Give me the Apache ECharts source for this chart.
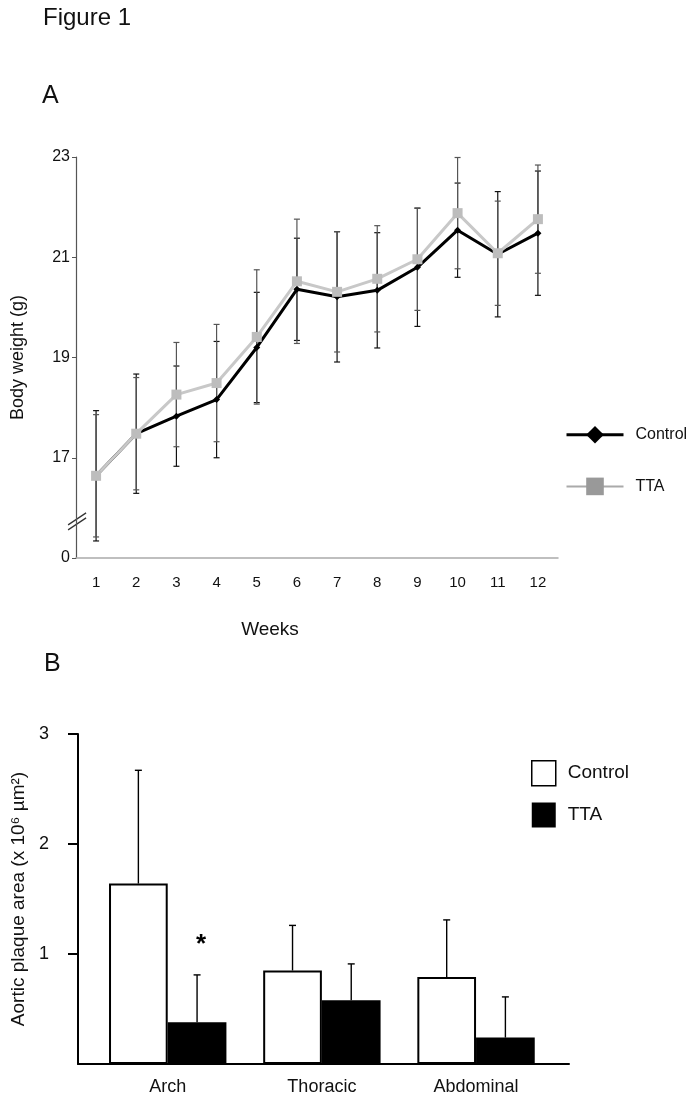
<!DOCTYPE html>
<html><head><meta charset="utf-8">
<script src="https://cdn.jsdelivr.net/npm/echarts@6/dist/echarts.min.js"></script>
<style>html,body{margin:0;padding:0;background:#fff}#c{width:696px;height:1102px}</style>
</head><body><div id="c"></div>
<script>
// ---- Panel A data ----
const weeks = ['1','2','3','4','5','6','7','8','9','10','11','12'];
const controlWeight = [16.64,17.48,17.83,18.16,19.20,20.36,20.21,20.34,20.80,21.54,21.06,21.48];
const controlSD     = [1.30,1.19,1.00,1.16,1.10,1.02,1.30,1.15,1.18,0.94,1.25,1.24];
const ttaWeight     = [16.64,17.48,18.26,18.49,19.41,20.52,20.31,20.57,20.96,21.88,21.08,21.76];
const ttaSD         = [1.22,1.12,1.04,1.17,1.34,1.24,1.20,1.06,1.02,1.11,1.04,1.08];
const weightTickValues = [15,17,19,21,23];
const weightTickLabels = ['0','17','19','21','23'];
// ---- Panel B data ----
const regions = ['Arch','Thoracic','Abdominal'];
const controlPlaque   = [1.64,0.85,0.79];
const controlPlaqueSD = [1.03,0.41,0.52];
const ttaPlaque       = [0.38,0.58,0.24];
const ttaPlaqueSD     = [0.43,0.33,0.37];
const plaqueSig       = ['*','',''];
const plaqueTicks     = [1,2,3];

const FONT = '"Liberation Sans", Arial, Helvetica, sans-serif';
const BAR_W = 58.7;

function weightErr(color){
  return function(params, api){
    const x = api.value(0);
    const lo = api.coord([x, api.value(1)]);
    const hi = api.coord([x, api.value(2)]);
    const cw = 3;
    const st = {stroke: color, lineWidth: 1.2};
    return {type:'group', children:[
      {type:'line', shape:{x1:lo[0], y1:lo[1], x2:hi[0], y2:hi[1]}, style: st},
      {type:'line', shape:{x1:lo[0]-cw, y1:lo[1], x2:lo[0]+cw, y2:lo[1]}, style: st},
      {type:'line', shape:{x1:hi[0]-cw, y1:hi[1], x2:hi[0]+cw, y2:hi[1]}, style: st}
    ]};
  };
}
function plaqueErr(side, sigArr){
  return function(params, api){
    const x = api.value(0);
    const a = api.coord([x, api.value(1)]);
    const b = api.coord([x, api.value(2)]);
    const px = a[0] + side * BAR_W / 2;
    const cw = 3.5;
    const st = {stroke:'#000', lineWidth: 1.4};
    const ch = [
      {type:'line', shape:{x1:px, y1:a[1], x2:px, y2:b[1]}, style: st},
      {type:'line', shape:{x1:px-cw, y1:b[1], x2:px+cw, y2:b[1]}, style: st}
    ];
    const s = sigArr ? sigArr[params.dataIndex] : '';
    if (s) ch.push({type:'text', style:{text:s, x:px+4, y:b[1]-30, align:'center', verticalAlign:'middle', font:'bold 26px ' + FONT, fill:'#000'}});
    return {type:'group', children: ch};
  };
}

const chart = echarts.init(document.getElementById('c'));
const option = {
  animation: false,
  backgroundColor: '#fff',
  textStyle: {fontFamily: FONT, color: '#111'},
  grid: [
    {left: 76, top: 157, width: 482, height: 401},
    {left: 78, top: 734, width: 491, height: 330}
  ],
  xAxis: [
    {type:'category', gridIndex:0, data: weeks, boundaryGap: true,
     axisLine:{lineStyle:{color:'#aaa', width:1.5}}, axisTick:{show:false},
     axisLabel:{fontSize:15, color:'#111', margin:17, fontFamily:FONT},
     name:'Weeks', nameLocation:'middle', nameGap:62,
     nameTextStyle:{fontSize:19, color:'#111', fontFamily:FONT, padding:[0,94,0,0]}},
    {type:'value', gridIndex:1, min:-0.582, max:2.603,
     axisLine:{show:true, onZero:false, lineStyle:{color:'#000', width:2}}, axisTick:{show:false},
     splitLine:{show:false},
     axisLabel:{customValues:[0,1,2], formatter: v => regions[Math.round(v)], fontSize:18, color:'#111', margin:14, fontFamily:FONT}}
  ],
  yAxis: [
    {type:'value', gridIndex:0, min:15, max:23,
     axisLine:{show:true, onZero:false, lineStyle:{color:'#555', width:1.2}},
     axisTick:{show:true, length:4, customValues: weightTickValues, lineStyle:{color:'#555'}},
     axisLabel:{customValues: weightTickValues, formatter: v => weightTickLabels[weightTickValues.indexOf(v)], fontSize:16, color:'#111', margin:6, fontFamily:FONT},
     splitLine:{show:false},
     name:'Body weight (g)', nameLocation:'middle', nameGap:49,
     nameTextStyle:{fontSize:18, color:'#111', fontFamily:FONT}},
    {type:'value', gridIndex:1, min:0, max:3,
     axisLine:{show:true, onZero:false, lineStyle:{color:'#000', width:2}},
     axisTick:{show:true, length:10, customValues: plaqueTicks, lineStyle:{color:'#000', width:2}},
     axisLabel:{customValues: plaqueTicks, fontSize:18, color:'#111', margin:29, fontFamily:FONT},
     splitLine:{show:false},
     name:'Aortic plaque area (x 10⁶ µm²)', nameLocation:'middle', nameGap:46,
     nameTextStyle:{fontSize:19, color:'#111', fontFamily:FONT}}
  ],
  legend: [
    {orient:'vertical', left:565, top:426, padding:0, itemWidth:57, itemHeight:22, itemGap:34,
     textStyle:{fontSize:16, color:'#111', fontFamily:FONT, padding:[0,0,0,7]},
     selectedMode:false,
     data:[
       {name:'Control', lineStyle:{color:'#000', width:3}, itemStyle:{color:'#000'}},
       {name:'TTA', lineStyle:{color:'#aaa', width:2}, itemStyle:{color:'#999'}}
     ]},
    {orient:'vertical', left:531, top:760, padding:0, itemWidth:24, itemHeight:25, itemGap:16,
     textStyle:{fontSize:19, color:'#111', fontFamily:FONT, padding:[0,0,0,7]},
     selectedMode:false,
     formatter: n => n.replace(' B',''),
     data:[
       {name:'Control B', icon:'rect', itemStyle:{color:'#fff', borderColor:'#000', borderWidth:1.5}},
       {name:'TTA B', icon:'rect', itemStyle:{color:'#000', borderWidth:0}}
     ]}
  ],
  series: [
    {type:'custom', name:'Control err', xAxisIndex:0, yAxisIndex:0, z:1,
     renderItem: weightErr('#111'), encode:{x:0, y:[1,2]},
     data: weeks.map((w,i) => [i, controlWeight[i]-controlSD[i], controlWeight[i]+controlSD[i]])},
    {type:'custom', name:'TTA err', xAxisIndex:0, yAxisIndex:0, z:1,
     renderItem: weightErr('#555'), encode:{x:0, y:[1,2]},
     data: weeks.map((w,i) => [i, ttaWeight[i]-ttaSD[i], ttaWeight[i]+ttaSD[i]])},
    {type:'line', name:'Control', xAxisIndex:0, yAxisIndex:0, z:3, data: controlWeight,
     symbol:'diamond', symbolSize:7, showAllSymbol:true,
     lineStyle:{color:'#000', width:3}, itemStyle:{color:'#000'}},
    {type:'line', name:'TTA', xAxisIndex:0, yAxisIndex:0, z:4, data: ttaWeight,
     symbol:'rect', symbolSize:10, showAllSymbol:true,
     lineStyle:{color:'#c8c8c8', width:3}, itemStyle:{color:'#bdbdbd'}},
    {type:'bar', name:'Control B', xAxisIndex:1, yAxisIndex:1, barWidth:BAR_W, barGap:'0%',
     data: regions.map((r,i) => [i, controlPlaque[i]]),
     itemStyle:{color:'#fff', borderColor:'#000', borderWidth:2}},
    {type:'bar', name:'TTA B', xAxisIndex:1, yAxisIndex:1, barWidth:BAR_W, barGap:'0%',
     data: regions.map((r,i) => [i, ttaPlaque[i]]),
     itemStyle:{color:'#000', borderColor:'#000', borderWidth:2}},
    {type:'custom', name:'Control B err', xAxisIndex:1, yAxisIndex:1, z:5,
     renderItem: plaqueErr(-1, null), encode:{x:0, y:[1,2]},
     data: regions.map((r,i) => [i, controlPlaque[i], controlPlaque[i]+controlPlaqueSD[i]])},
    {type:'custom', name:'TTA B err', xAxisIndex:1, yAxisIndex:1, z:5,
     renderItem: plaqueErr(1, plaqueSig), encode:{x:0, y:[1,2]},
     data: regions.map((r,i) => [i, ttaPlaque[i], ttaPlaque[i]+ttaPlaqueSD[i]])}
  ],
  graphic: [
    {type:'text', left:43, top:6, style:{text:'Figure 1', font:'24px ' + FONT, fill:'#111'}},
    {type:'text', left:42, top:84, style:{text:'A', font:'25px ' + FONT, fill:'#111'}},
    {type:'text', left:44, top:652, style:{text:'B', font:'25px ' + FONT, fill:'#111'}}
  ]
};
chart.setOption(option);

// axis-break marks on the Panel A value axis
const bx = chart.convertToPixel({xAxisIndex:0}, 0) - 20;
const by = chart.convertToPixel({yAxisIndex:0}, 15.72);
const gBreak = [
  {type:'line', shape:{x1:bx-8, y1:by+3, x2:bx+10, y2:by-9}, style:{stroke:'#333', lineWidth:1.3}},
  {type:'line', shape:{x1:bx-8, y1:by+8, x2:bx+10, y2:by-4}, style:{stroke:'#333', lineWidth:1.3}}
];
chart.setOption({graphic: option.graphic.concat(gBreak)});
</script></body></html>
